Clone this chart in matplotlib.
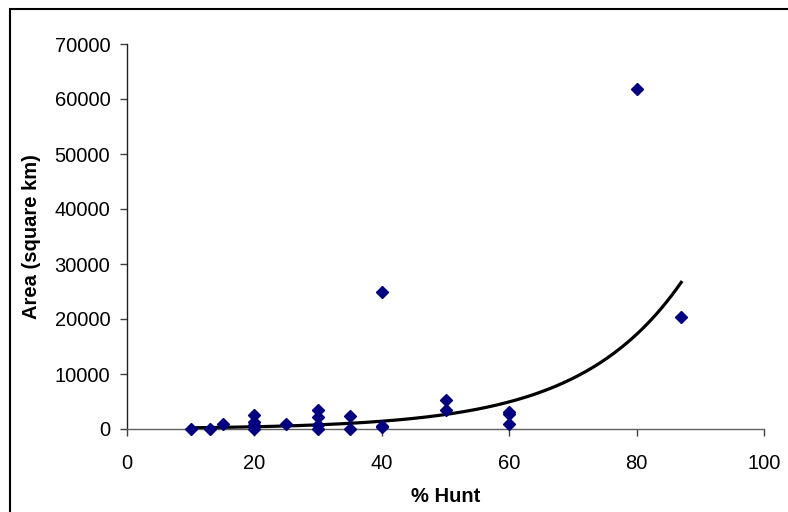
import numpy as np
import matplotlib
matplotlib.use("Agg")
import matplotlib.pyplot as plt
from matplotlib.patches import Rectangle

plt.rcParams['font.family'] = ['Liberation Sans', 'DejaVu Sans']

# dados
hunt_pct = [10, 13, 15, 20, 20, 20, 20, 25, 30, 30, 30, 30, 35, 35,
            40, 40, 40, 50, 50, 60, 60, 60, 80, 87]
area_km2 = [30, 40, 900, 2600, 1300, 700, 50, 850, 3450, 2240, 730, 40, 2420, 40,
            25000, 500, 300, 5200, 3450, 3150, 2700, 900, 61800, 20400]

# linha de tendencia exponencial (coeficientes)
TREND_A = 116.0
TREND_B = 0.0625

x_ticks = [0, 20, 40, 60, 80, 100]
y_ticks = [0, 10000, 20000, 30000, 40000, 50000, 60000, 70000]

fig = plt.figure(figsize=(7.88, 5.12), dpi=100)
ax = fig.add_axes([127 / 788, 1 - 429 / 512, (764 - 127) / 788, (429 - 44) / 512])

# linha de tendencia
xt = np.linspace(min(hunt_pct), max(hunt_pct), 200)
ax.plot(xt, TREND_A * np.exp(TREND_B * xt), color='black', lw=2.3, zorder=2)

# pontos
ax.plot(hunt_pct, area_km2, linestyle='none', marker='D', ms=6.5,
        color='#000080', mec='#000080', zorder=3, clip_on=False)

ax.set_xlim(0, 100)
ax.set_ylim(0, 70000)
ax.set_xticks(x_ticks)
ax.set_yticks(y_ticks)
ax.tick_params(labelsize=14.5, length=5, width=1, color='#404040', pad=7)
ax.tick_params(axis='x', pad=13)
for s in ['top', 'right']:
    ax.spines[s].set_visible(False)
ax.spines['left'].set_color('#202020')
ax.spines['bottom'].set_color('#606060')
for s in ['left', 'bottom']:
    ax.spines[s].set_linewidth(1)

ax.set_xlabel("% Hunt", fontsize=14.5, fontweight='bold', labelpad=10)
ax.set_ylabel("Area (square km)", fontsize=14.5, fontweight='bold', labelpad=10)

# borda externa do grafico
fig.patches.append(Rectangle((10 / 788, -0.1), 1.1, 0.1 + 1 - 9 / 512,
                             transform=fig.transFigure, fill=False,
                             edgecolor='black', lw=1.5))

fig.savefig("out.png", dpi=100)
